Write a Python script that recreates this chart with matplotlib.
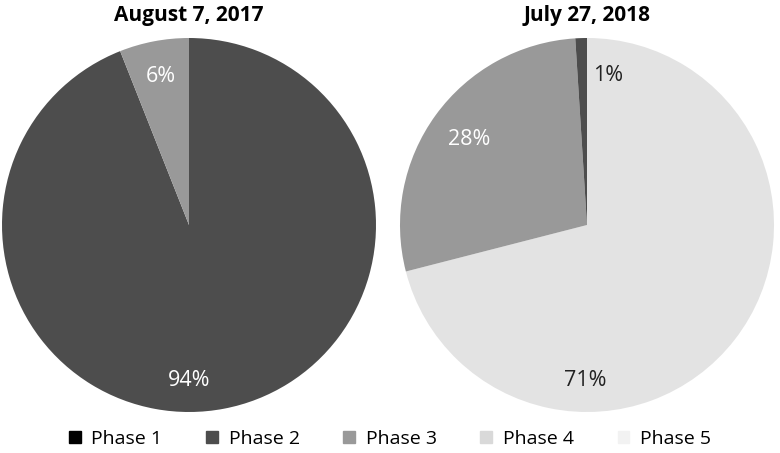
import matplotlib
matplotlib.use("Agg")
import matplotlib.pyplot as plt
import matplotlib.patches as mpatches
import numpy as np

plt.rcParams['font.family'] = ['Open Sans', 'DejaVu Sans']

phases = ["Phase 1", "Phase 2", "Phase 3", "Phase 4", "Phase 5"]
legend_colors = ["#000000", "#4d4d4d", "#999999", "#d9d9d9", "#f2f2f2"]

# left pie, clockwise from the top
left_title = "August 7, 2017"
left_vals = [94, 6]
left_colors = ["#4d4d4d", "#999999"]
left_text = ["white", "white"]
left_lab_ang = [180, -10.8]     # label angle, clockwise from top (degrees)
left_lab_r = [0.83, 0.81]

# right pie, clockwise from the top
right_title = "July 27, 2018"
right_vals = [71, 28, 1]
right_colors = ["#e3e3e3", "#999999", "#4d4d4d"]
right_text = ["#222222", "white", "#222222"]
right_lab_ang = [180.7, -54, 8]
right_lab_r = [0.83, 0.78, 0.81]

fig = plt.figure(figsize=(7.8, 4.53), dpi=100)
W, H = 780, 453
R = 187


def draw_pie(cx, cy, title, vals, colors, tcol, angs, rads):
    ax = fig.add_axes([(cx - R) / W, (H - cy - R) / H, 2 * R / W, 2 * R / H])
    ax.pie(vals, colors=colors, startangle=90, counterclock=False, radius=1,
           wedgeprops=dict(linewidth=0))
    for v, c, a, r in zip(vals, tcol, angs, rads):
        t = np.radians(a)
        ax.text(r * np.sin(t), r * np.cos(t), f"{v}%", color=c,
                ha="center", va="center", fontsize=15.5)
    ax.set_xlim(-1, 1)
    ax.set_ylim(-1, 1)
    ax.set_aspect("equal")
    ax.axis("off")
    fig.text(cx / W, 1 - 15 / H, title, ha="center", va="center",
             fontsize=15, fontweight="bold")


draw_pie(189, 225, left_title, left_vals, left_colors, left_text, left_lab_ang, left_lab_r)
draw_pie(587, 225, right_title, right_vals, right_colors, right_text, right_lab_ang, right_lab_r)

handles = [mpatches.Patch(color=c, label=p) for p, c in zip(phases, legend_colors)]
fig.legend(handles=handles, loc="center", bbox_to_anchor=(0.5, 1 - 439 / H),
           ncol=5, frameon=False, fontsize=14, handlelength=0.6, handleheight=0.6,
           handletextpad=0.55, columnspacing=2.25)

fig.savefig("out.png", dpi=100)
